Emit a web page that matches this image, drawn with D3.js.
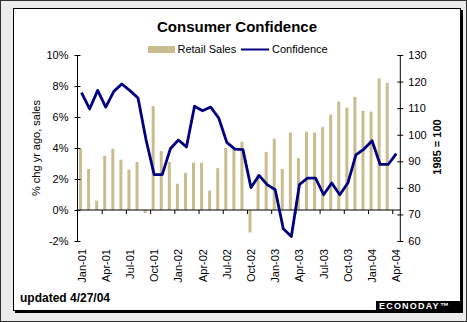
<!DOCTYPE html>
<html>
<head>
<meta charset="utf-8">
<script src="https://cdn.jsdelivr.net/npm/d3@7"></script>
<style>
  body { margin: 0; background: #ececec; }
  svg { display: block; font-family: 'Liberation Sans', Arial, sans-serif; }
</style>
</head>
<body>
<script>
// months on the category axis
var months = [
  'Jan-01', 'Feb-01', 'Mar-01', 'Apr-01', 'May-01', 'Jun-01', 'Jul-01', 'Aug-01', 'Sep-01', 'Oct-01', 'Nov-01', 'Dec-01',
  'Jan-02', 'Feb-02', 'Mar-02', 'Apr-02', 'May-02', 'Jun-02', 'Jul-02', 'Aug-02', 'Sep-02', 'Oct-02', 'Nov-02', 'Dec-02',
  'Jan-03', 'Feb-03', 'Mar-03', 'Apr-03', 'May-03', 'Jun-03', 'Jul-03', 'Aug-03', 'Sep-03', 'Oct-03', 'Nov-03', 'Dec-03',
  'Jan-04', 'Feb-04', 'Mar-04', 'Apr-04'
];

// retail sales, % change from a year ago (through Mar-04)
var retailSales = [
  3.95, 2.65, 0.6, 3.5, 3.95, 3.25, 2.6, 3.1, -0.2, 6.7, 3.8, 3.1,
  1.7, 2.4, 3.05, 3.05, 1.25, 2.7, 4.0, 3.9, 4.4, -1.45, 2.3, 3.75,
  4.6, 2.65, 5.0, 3.35, 5.05, 5.0, 5.35, 6.15, 7.0, 6.6, 7.3, 6.4,
  6.35, 8.5, 8.2
];

// consumer confidence index, 1985 = 100
var confidence = [
  115.8, 109.7, 116.7, 110.4, 116.3, 119.1, 116.6, 113.8, 98.0, 85.0, 85.0, 94.7,
  98.0, 95.4, 110.7, 109.0, 110.4, 106.3, 97.1, 94.6, 94.4, 80.1, 84.7, 81.2,
  79.3, 64.6, 61.7, 81.2, 83.7, 83.7, 77.4, 81.8, 77.4, 81.8, 92.4, 94.6,
  97.7, 88.8, 88.8, 92.9
];

var leftTicks = [-2, 0, 2, 4, 6, 8, 10];
var rightTicks = [60, 70, 80, 90, 100, 110, 120, 130];
var labelMonths = ['Jan-01', 'Apr-01', 'Jul-01', 'Oct-01', 'Jan-02', 'Apr-02', 'Jul-02', 'Oct-02',
  'Jan-03', 'Apr-03', 'Jul-03', 'Oct-03', 'Jan-04', 'Apr-04'];

var W = 467, H = 322;
var svg = d3.select('body').append('svg').attr('width', W).attr('height', H);

// frame
svg.append('rect').attr('x', 0.5).attr('y', 0.5).attr('width', W - 1).attr('height', H - 1)
  .attr('fill', '#ececec').attr('stroke', '#303030');
svg.append('rect').attr('x', 15).attr('y', 10).attr('width', 448).attr('height', 303).attr('fill', '#000');
svg.append('rect').attr('x', 13.5).attr('y', 8.5).attr('width', 447).attr('height', 302)
  .attr('fill', '#fff').attr('stroke', '#000');

var plotL = 77.5, plotR = 400.3, plotT = 55, plotB = 241;

var x = d3.scaleBand().domain(months).range([plotL, plotR]);
var xi = d3.scaleLinear().domain([0, months.length]).range([plotL, plotR]);
var yL = d3.scaleLinear().domain([-2, 10]).range([plotB, plotT]);
var yR = d3.scaleLinear().domain([60, 130]).range([plotB, plotT]);

// title + legend
svg.append('text').attr('x', 237).attr('y', 31.5).attr('text-anchor', 'middle')
  .attr('font-size', '15px').attr('font-weight', 'bold').text('Consumer Confidence');

svg.append('rect').attr('x', 148).attr('y', 46).attr('width', 27).attr('height', 7).attr('fill', '#c9bc8f');
svg.append('text').attr('x', 177.5).attr('y', 52.5).attr('font-size', '11px').text('Retail Sales');
svg.append('line').attr('x1', 241).attr('x2', 269).attr('y1', 49.5).attr('y2', 49.5)
  .attr('stroke', '#000080').attr('stroke-width', 2);
svg.append('text').attr('x', 272).attr('y', 52.5).attr('font-size', '11px').text('Confidence');

// bars
svg.append('g').selectAll('rect')
  .data(retailSales)
  .enter()
  .append('rect')
  .attr('x', function (d, i) { return x(months[i]) + x.bandwidth() / 2 - 2.5; })
  .attr('y', function (d) { return d >= 0 ? yL(d) : yL(0); })
  .attr('width', 3)
  .attr('height', function (d) { return Math.abs(yL(d) - yL(0)); })
  .attr('fill', '#c9bc8f');

// left axis
var gl = svg.append('g').attr('transform', 'translate(' + plotL + ',0)')
  .call(d3.axisLeft(yL).tickValues(leftTicks).tickSizeOuter(0)
    .tickFormat(function (d) { return d + '%'; }));
gl.selectAll('.tick line').attr('x1', -3).attr('x2', 3);
gl.selectAll('.tick text').attr('x', -9).attr('font-size', '11px')
  .attr('font-family', "'Liberation Sans', Arial, sans-serif").attr('fill', '#000');
gl.select('.domain').attr('d', 'M0,' + plotT + 'V' + plotB);

// right axis
var gr = svg.append('g').attr('transform', 'translate(' + plotR + ',0)')
  .call(d3.axisRight(yR).tickValues(rightTicks).tickSizeOuter(0));
gr.selectAll('.tick line').attr('x1', -3).attr('x2', 3);
gr.selectAll('.tick text').attr('x', 8).attr('font-size', '11px')
  .attr('font-family', "'Liberation Sans', Arial, sans-serif").attr('fill', '#000');
gr.select('.domain').attr('d', 'M0,' + plotT + 'V' + plotB);

// category axis at 0%
var gx = svg.append('g').attr('transform', 'translate(0,' + yL(0) + ')')
  .call(d3.axisBottom(xi).tickValues(d3.range(3, months.length, 3)).tickFormat('').tickSizeOuter(0).tickSize(4));
gx.select('.domain').attr('d', 'M' + plotL + ',0H' + plotR);

svg.append('g').selectAll('text')
  .data(labelMonths)
  .enter()
  .append('text')
  .attr('transform', function (d) {
    return 'translate(' + (x(d) + x.bandwidth() / 2 + 4) + ',249) rotate(-90)';
  })
  .attr('text-anchor', 'end')
  .attr('font-size', '11px')
  .text(function (d) { return d; });

// confidence line
var line = d3.line()
  .x(function (d, i) { return x(months[i]) + x.bandwidth() / 2; })
  .y(function (d) { return yR(d); });

svg.append('path').datum(confidence)
  .attr('d', line)
  .attr('fill', 'none')
  .attr('stroke', '#000080')
  .attr('stroke-width', 2.8)
  .attr('stroke-linejoin', 'round');

// axis titles
svg.append('text').attr('transform', 'translate(40,148) rotate(-90)')
  .attr('text-anchor', 'middle').attr('font-size', '11px').text('% chg yr ago, sales');
svg.append('text').attr('transform', 'translate(441,147) rotate(-90)')
  .attr('text-anchor', 'middle').attr('font-size', '11px').attr('font-weight', 'bold').text('1985 = 100');

// footer
svg.append('text').attr('x', 20).attr('y', 302).attr('font-size', '12px').attr('font-weight', 'bold')
  .text('updated 4/27/04');
svg.append('rect').attr('x', 376).attr('y', 301).attr('width', 85).attr('height', 9).attr('fill', '#000');
svg.append('text').attr('x', 379).attr('y', 309).attr('font-size', '9px').attr('font-weight', 'bold')
  .attr('fill', '#fff').attr('letter-spacing', '1.2px').text('ECONODAY\u2122');
</script>
</body>
</html>
